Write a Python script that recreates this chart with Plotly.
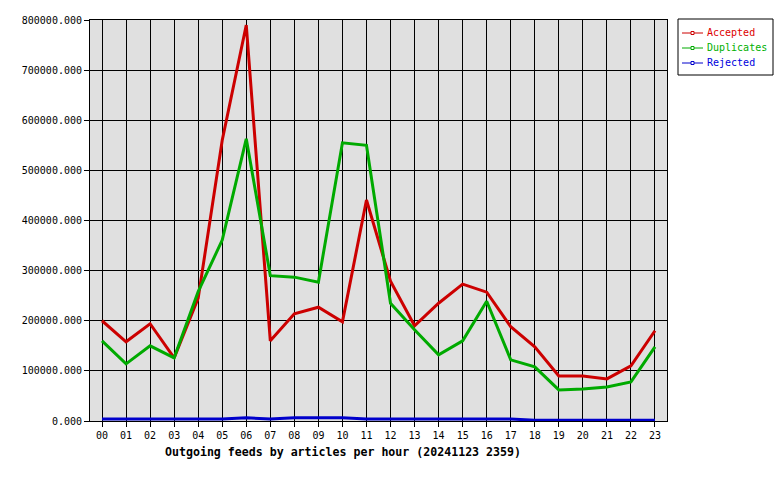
import plotly.graph_objects as go

hours = ["%02d" % h for h in range(24)]
accepted = [200000, 158000, 194000, 126000, 245000, 560000, 790000, 160000, 214000, 227000,
            198000, 441000, 279000, 190000, 235000, 273000, 257000, 188000, 148000, 90000,
            90000, 84000, 110000, 180000]
duplicates = [160000, 114000, 150000, 126000, 258000, 361000, 563000, 290000, 287000, 277000,
              555000, 550000, 235000, 182000, 132000, 160000, 239000, 122000, 108000, 62000,
              64000, 68000, 78000, 148000]
rejected = [4000, 4000, 4000, 4000, 4000, 4000, 6500, 4000, 6500, 6500,
            6500, 4000, 4000, 4000, 4000, 4000, 4000, 4000, 1500, 1500,
            1500, 1500, 1500, 1500]
y_ticks = [0, 100000, 200000, 300000, 400000, 500000, 600000, 700000, 800000]
title = "Outgoing feeds by articles per hour (20241123 2359)"

series = [("Accepted", accepted, "#cc0000", "#dd0000"),
          ("Duplicates", duplicates, "#00aa00", "#00b000"),
          ("Rejected", rejected, "#0000cc", "#0000dd")]

# plot area in pixels (for placing the legend box outside the axes)
L, R, T, B = 90, 667, 20, 421
W, H = 780, 480
def px(x):
    return (x - L) / (R - L)
def py(y):
    return (B - y) / (B - T)

xs = list(range(len(hours)))
fig = go.Figure()
for name, vals, col, tcol in series:
    fig.add_trace(go.Scatter(x=xs, y=vals, mode="lines", line=dict(color=col, width=3),
                             name=name, showlegend=False, hoverinfo="skip"))

mono = "DejaVu Sans Mono"
shapes = [dict(type="rect", xref="paper", yref="paper", x0=px(678), x1=px(773),
               y0=py(19), y1=py(75), line=dict(color="black", width=1), fillcolor="white",
               layer="above")]
annotations = []
for i, (name, vals, col, tcol) in enumerate(series):
    yy = 33 + 15 * i
    shapes.append(dict(type="line", xref="paper", yref="paper", x0=px(682), x1=px(703),
                       y0=py(yy), y1=py(yy), line=dict(color=col, width=1), layer="above"))
    shapes.append(dict(type="rect", xref="paper", yref="paper", x0=px(691), x1=px(694),
                       y0=py(yy + 1.5), y1=py(yy - 1.5), line=dict(color=col, width=1),
                       fillcolor="white", layer="above"))
    annotations.append(dict(text=name, xref="paper", yref="paper", x=px(705), y=py(yy),
                            xanchor="left", yanchor="middle", showarrow=False,
                            font=dict(family=mono, size=10, color=tcol)))
annotations.append(dict(text="<b>%s</b>" % title, xref="paper", yref="paper",
                        x=px(343), y=py(452), xanchor="center", yanchor="middle",
                        showarrow=False, font=dict(family=mono, size=11.6, color="black")))

fig.update_layout(
    width=W, height=H,
    margin=dict(l=L, r=W - R, t=T, b=H - B, autoexpand=False),
    paper_bgcolor="white", plot_bgcolor="#e0e0e0",
    font=dict(family=mono, size=10, color="black"),
    showlegend=False,
    xaxis=dict(range=[-0.5, 23.5], tickvals=xs, ticktext=hours, showgrid=True,
               gridcolor="black", gridwidth=1, showline=True, linecolor="black",
               linewidth=1, mirror=True, ticks="outside", ticklen=5, tickcolor="black",
               zeroline=False, fixedrange=True),
    yaxis=dict(range=[0, 800000], tickvals=y_ticks, tickformat=".3f", showgrid=True,
               gridcolor="black", gridwidth=1, showline=True, linecolor="black",
               linewidth=1, mirror=True, ticks="outside", ticklen=5, tickcolor="black",
               zeroline=False, fixedrange=True),
    shapes=shapes,
    annotations=annotations,
)
fig.write_html("out.html")
